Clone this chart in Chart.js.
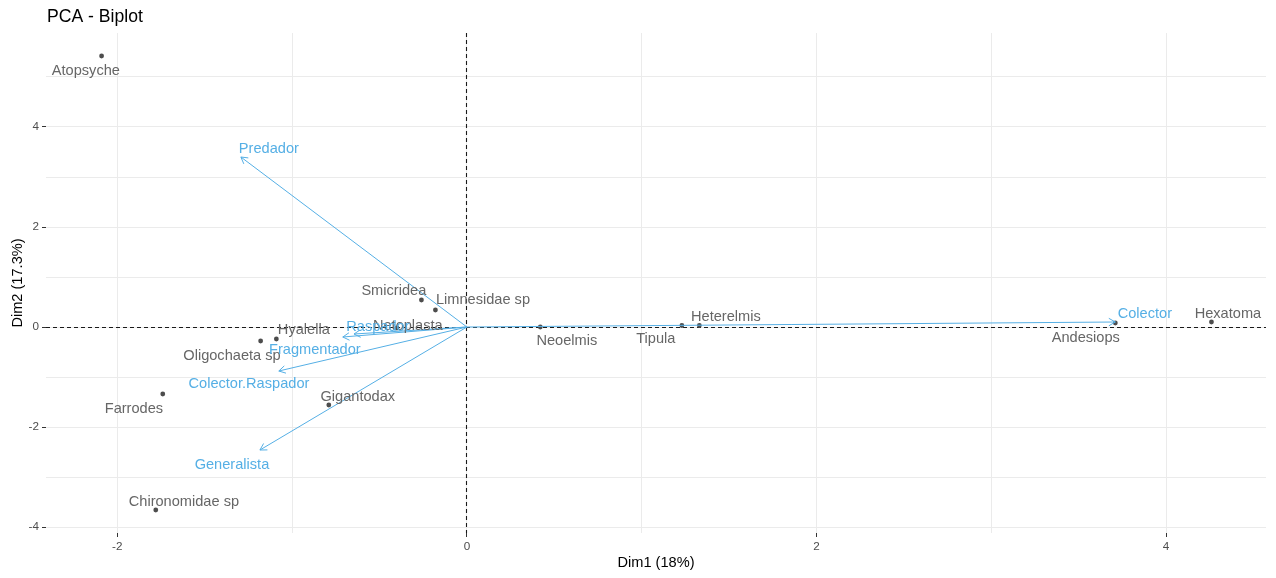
<!DOCTYPE html>
<html>
<head>
<meta charset="utf-8">
<script src="https://cdn.jsdelivr.net/npm/chart.js@4.4.1/dist/chart.umd.min.js"></script>
<style>
html,body{margin:0;padding:0;background:#fff;}
canvas{display:block;}
</style>
</head>
<body>
<canvas id="c" width="1276" height="578"></canvas>
<script>
// Individuals
const indNames = ["Atopsyche","Smicridea","Limnesidae sp","Netoplasta","Hyalella","Oligochaeta sp","Farrodes","Gigantodax","Chironomidae sp","Neoelmis","Tipula","Heterelmis","Andesiops","Hexatoma"];
const indX = [-2.09,-0.26,-0.18,-0.40,-1.09,-1.18,-1.74,-0.79,-1.78,0.42,1.23,1.33,3.71,4.26];
const indY = [5.42,0.54,0.34,-0.02,-0.24,-0.28,-1.34,-1.56,-3.66,0.00,0.03,0.03,0.08,0.10];
// repelled label anchors (data units)
const indLabX = [-2.18,-0.418,0.092,-0.338,-0.933,-1.344,-1.905,-0.624,-1.619,0.572,1.081,1.482,3.541,4.354];
const indLabY = [5.12,0.72,0.54,0.02,-0.06,-0.58,-1.64,-1.40,-3.50,-0.28,-0.24,0.20,-0.22,0.26];

// Variables
const varNames = ["Predador","Raspador","Fragmentador","Colector.Raspador","Generalista","Colector"];
const varX = [-1.293,-0.646,-0.71,-1.076,-1.184,3.71];
const varY = [3.40,-0.14,-0.20,-0.88,-2.46,0.10];
const varLabX = [-1.133,-0.509,-0.870,-1.247,-1.344,3.879];
const varLabY = [3.56,0.00,-0.46,-1.14,-2.76,0.26];

// Axes
const xTicks = [-2,-1,0,1,2,3,4];
const yTicks = [-4,-3,-2,-1,0,1,2,3,4,5];
const xRange = [-2.408, 4.572];
const yRange = [-4.12, 5.88];

const titleText = "PCA - Biplot";
const xTitle = "Dim1 (18%)";
const yTitle = "Dim2 (17.3%)";

const FONT = "'Liberation Sans', Arial, sans-serif";
const BLUE = "#55AFE5";
const IND_PT = "#4d4d4d";
const IND_TX = "#666666";

const datasets = [];
datasets.push({
  type:'scatter', label:'ind', order:1,
  data: indX.map((x,i)=>({x:x,y:indY[i]})),
  pointRadius:2.4, pointBackgroundColor:IND_PT, pointBorderWidth:0, showLine:false
});
varNames.forEach((n,i)=>{
  datasets.push({
    type:'line', label:n, order:0,
    data:[{x:0,y:0},{x:varX[i],y:varY[i]}],
    borderColor:BLUE, borderWidth:1, pointRadius:0, fill:false, tension:0
  });
});

const biplotPlugin = {
  id:'biplot',
  beforeDatasetsDraw(chart){
    const ctx = chart.ctx, xs = chart.scales.x, ys = chart.scales.y, a = chart.chartArea;
    ctx.save();
    ctx.strokeStyle = '#1a1a1a';
    ctx.lineWidth = 1.1;
    ctx.setLineDash([4,3]);
    const x0 = Math.floor(xs.getPixelForValue(0))+0.5;
    const y0 = Math.floor(ys.getPixelForValue(0))+0.5;
    ctx.beginPath(); ctx.moveTo(a.left,y0); ctx.lineTo(a.right,y0); ctx.stroke();
    ctx.beginPath(); ctx.moveTo(x0,a.top); ctx.lineTo(x0,a.bottom); ctx.stroke();
    ctx.restore();
  },
  afterDatasetsDraw(chart){
    const ctx = chart.ctx, xs = chart.scales.x, ys = chart.scales.y;
    ctx.save();
    // arrowheads
    ctx.strokeStyle = BLUE; ctx.lineWidth = 1;
    varNames.forEach((n,i)=>{
      const px = xs.getPixelForValue(varX[i]), py = ys.getPixelForValue(varY[i]);
      const ox = xs.getPixelForValue(0), oy = ys.getPixelForValue(0);
      const ang = Math.atan2(py-oy, px-ox);
      const L = 7.5, h = Math.PI/6;
      ctx.beginPath();
      ctx.moveTo(px - L*Math.cos(ang-h), py - L*Math.sin(ang-h));
      ctx.lineTo(px, py);
      ctx.lineTo(px - L*Math.cos(ang+h), py - L*Math.sin(ang+h));
      ctx.stroke();
    });
    // labels
    ctx.font = "14.6px " + FONT;
    ctx.textAlign = 'center'; ctx.textBaseline = 'middle';
    ctx.fillStyle = IND_TX;
    indNames.forEach((n,i)=>{
      ctx.fillText(n, xs.getPixelForValue(indLabX[i]), ys.getPixelForValue(indLabY[i]));
    });
    ctx.fillStyle = BLUE;
    varNames.forEach((n,i)=>{
      ctx.fillText(n, xs.getPixelForValue(varLabX[i]), ys.getPixelForValue(varLabY[i]));
    });
    ctx.restore();
  },
  afterDraw(chart){
    const ctx = chart.ctx, a = chart.chartArea;
    ctx.save();
    ctx.fillStyle = '#000';
    ctx.font = "17.6px " + FONT;
    ctx.textAlign = 'left'; ctx.textBaseline = 'middle';
    ctx.fillText(titleText, a.left+1, 17);
    ctx.font = "14.6px " + FONT;
    ctx.textAlign = 'center';
    ctx.fillText(xTitle, (a.left+a.right)/2, 563);
    ctx.translate(18, (a.top+a.bottom)/2);
    ctx.rotate(-Math.PI/2);
    ctx.fillText(yTitle, 0, 0);
    ctx.restore();
  }
};

function gridColor(c){ return '#ebebeb'; }
function tickCol(c){ return (c.tick && c.tick.value % 2 === 0) ? '#333333' : 'rgba(0,0,0,0)'; }

new Chart(document.getElementById('c'), {
  data:{datasets:datasets},
  options:{
    responsive:false, animation:false, devicePixelRatio:1,
    layout:{padding:{top:33,right:10,left:0,bottom:0}},
    plugins:{legend:{display:false}, tooltip:{enabled:false}, title:{display:false}},
    scales:{
      x:{
        type:'linear', min:xRange[0], max:xRange[1],
        afterBuildTicks(s){ s.ticks = xTicks.map(v=>({value:v})); },
        afterFit(s){ s.height = 45; },
        ticks:{ autoSkip:false, maxRotation:0, padding:3, color:'#4d4d4d', font:{family:FONT, size:11.7},
          callback(v){ return v % 2 === 0 ? String(v) : ''; } },
        grid:{ color:gridColor, lineWidth:1, tickLength:4, tickColor:tickCol, drawTicks:true },
        border:{display:false}
      },
      y:{
        type:'linear', min:yRange[0], max:yRange[1],
        afterBuildTicks(s){ s.ticks = yTicks.map(v=>({value:v})); },
        afterFit(s){ s.width = 46; },
        ticks:{ autoSkip:false, padding:3, color:'#4d4d4d', font:{family:FONT, size:11.7},
          callback(v){ return v % 2 === 0 ? String(v) : ''; } },
        grid:{ color:gridColor, lineWidth:1, tickLength:4, tickColor:tickCol, drawTicks:true },
        border:{display:false}
      }
    }
  },
  plugins:[biplotPlugin]
});
</script>
</body>
</html>
